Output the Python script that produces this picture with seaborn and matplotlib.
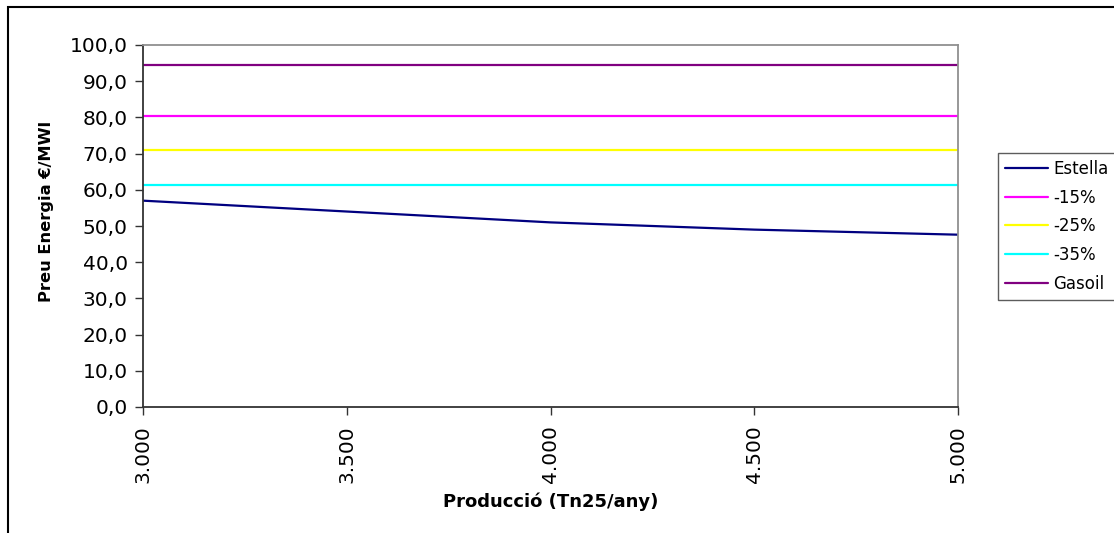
import matplotlib
matplotlib.use("Agg")
import matplotlib.pyplot as plt
from matplotlib.patches import Rectangle
from matplotlib.ticker import FuncFormatter, MultipleLocator
import seaborn as sns
import pandas as pd

# Production levels (Tn25/any)
produccio = [3000, 3500, 4000, 4500, 5000]

# Energy price series (€/MWl)
estella = [57.0, 54.0, 51.0, 49.0, 47.6]
menys15 = [80.3, 80.3, 80.3, 80.3, 80.3]
menys25 = [70.9, 70.9, 70.9, 70.9, 70.9]
menys35 = [61.4, 61.4, 61.4, 61.4, 61.4]
gasoil = [94.5, 94.5, 94.5, 94.5, 94.5]

series_names = ["Estella", "-15%", "-25%", "-35%", "Gasoil"]
series_values = [estella, menys15, menys25, menys35, gasoil]
series_colors = ["#000080", "#FF00FF", "#FFFF00", "#00FFFF", "#800080"]

rows = []
for name, vals in zip(series_names, series_values):
    for x, v in zip(produccio, vals):
        rows.append({"Producció": x, "Preu": v, "Sèrie": name})
df = pd.DataFrame(rows)

sns.set_theme(style="white")
plt.rcParams["font.family"] = ["DejaVu Sans"]
plt.rcParams["text.color"] = "black"
plt.rcParams["axes.labelcolor"] = "black"

W, H = 1114, 533
fig = plt.figure(figsize=(W / 100, H / 100), dpi=100)
fig.patch.set_facecolor("white")
ax = fig.add_axes([143 / W, 1 - 407 / H, (958 - 143) / W, (407 - 45) / H])

sns.lineplot(
    data=df, x="Producció", y="Preu", hue="Sèrie",
    hue_order=series_names, palette=dict(zip(series_names, series_colors)),
    linewidth=1.6, ax=ax, legend=True,
)

ax.set_xlim(3000, 5000)
ax.set_ylim(0, 100)
ax.xaxis.set_major_locator(MultipleLocator(500))
ax.yaxis.set_major_locator(MultipleLocator(10))
ax.xaxis.set_major_formatter(FuncFormatter(lambda v, p: f"{int(round(v)):,}".replace(",", ".")))
ax.yaxis.set_major_formatter(FuncFormatter(lambda v, p: f"{v:.1f}".replace(".", ",")))

ax.tick_params(axis="both", which="major", direction="out", length=6, width=1,
               color="#333333", labelsize=14.5, labelcolor="black",
               left=True, bottom=True)
ax.tick_params(axis="y", pad=5)
ax.tick_params(axis="x", pad=7)
for lbl in ax.get_xticklabels():
    lbl.set_rotation(90)

for side in ("left", "bottom"):
    ax.spines[side].set_color("#333333")
    ax.spines[side].set_linewidth(1.3)
for side in ("top", "right"):
    ax.spines[side].set_color("#909090")
    ax.spines[side].set_linewidth(1.3)

ax.set_xlabel("")
ax.set_ylabel("")
fig.text(551 / W, 1 - 502 / H, "Producció (Tn25/any)", ha="center", va="center",
         fontsize=13, fontweight="bold", color="black")
fig.text(46 / W, 1 - 211 / H, "Preu Energia €/MWl", ha="center", va="center",
         rotation=90, fontsize=11.7, fontweight="bold", color="black")

handles, labels = ax.get_legend_handles_labels()
leg = ax.legend(
    handles, labels, loc="upper left",
    bbox_to_anchor=(998 / W, 1 - 153 / H), bbox_transform=fig.transFigure,
    frameon=True, fancybox=False, shadow=False, fontsize=12,
    handlelength=2.6, handletextpad=0.3, labelspacing=0.64,
    borderpad=0.42, borderaxespad=0.0,
)
leg.get_frame().set_edgecolor("#333333")
leg.get_frame().set_linewidth(1.0)
for txt in leg.get_texts():
    txt.set_color("black")
for line in leg.get_lines():
    line.set_linewidth(1.6)

# Chart area border (top and left edges fall inside the canvas)
fig.patches.append(Rectangle((8 / W, -0.1), 1.2, 1 - 7 / H + 0.1,
                             transform=fig.transFigure, fill=False,
                             edgecolor="black", linewidth=1.5, clip_on=False))

fig.savefig("out.png", dpi=100, facecolor="white")
